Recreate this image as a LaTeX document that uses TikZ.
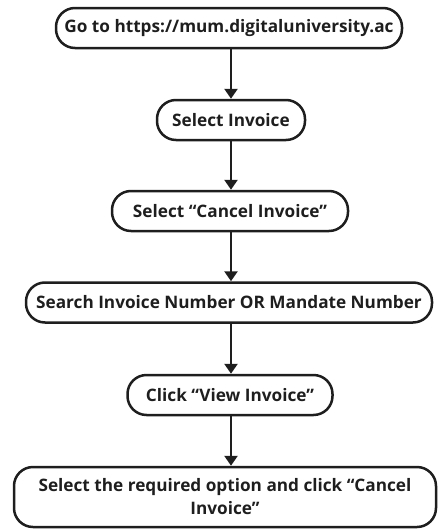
\documentclass[tikz,border=0pt]{standalone}
\usepackage{fontspec}
\setmainfont{Open Sans}
\usetikzlibrary{arrows.meta}
\definecolor{ink}{HTML}{1E1E1E}
\tikzset{
  stepbox/.style={draw=ink, line width=2.5pt, rounded corners=19pt, minimum height=40pt,
    inner sep=0pt, text=ink, font=\fontsize{17.2}{23}\selectfont\bfseries, align=center},
  flow/.style={draw=ink, line width=2.5pt, -{Triangle[length=10pt,width=13pt]}}
}
\begin{document}
\begin{tikzpicture}[x=1pt,y=-1pt]
\useasboundingbox (0,0) rectangle (440,530);
\node[stepbox, minimum width=346pt] (n1) at (229,28) {Go to https://mum.digitaluniversity.ac};
\node[stepbox, minimum width=148pt] (n2) at (231,120) {Select Invoice};
\node[stepbox, minimum width=236pt] (n3) at (230,211) {Select “Cancel Invoice”};
\node[stepbox, minimum width=406pt] (n4) at (229,302.5) {Search Invoice Number OR Mandate Number};
\node[stepbox, minimum width=205pt] (n5) at (230,395) {Click “View Invoice”};
\node[stepbox, minimum width=422pt, minimum height=60pt] (n6) at (225,497) {Select the required option and click “Cancel\\Invoice”};
\draw[flow] (n1.south -| 231,0) -- (n2.north -| 231,0);
\draw[flow] (n2.south -| 231,0) -- (n3.north -| 231,0);
\draw[flow] (n3.south -| 231,0) -- (n4.north -| 231,0);
\draw[flow] (n4.south -| 231,0) -- (n5.north -| 231,0);
\draw[flow] (n5.south -| 231,0) -- (n6.north -| 231,0);
\end{tikzpicture}
\end{document}
